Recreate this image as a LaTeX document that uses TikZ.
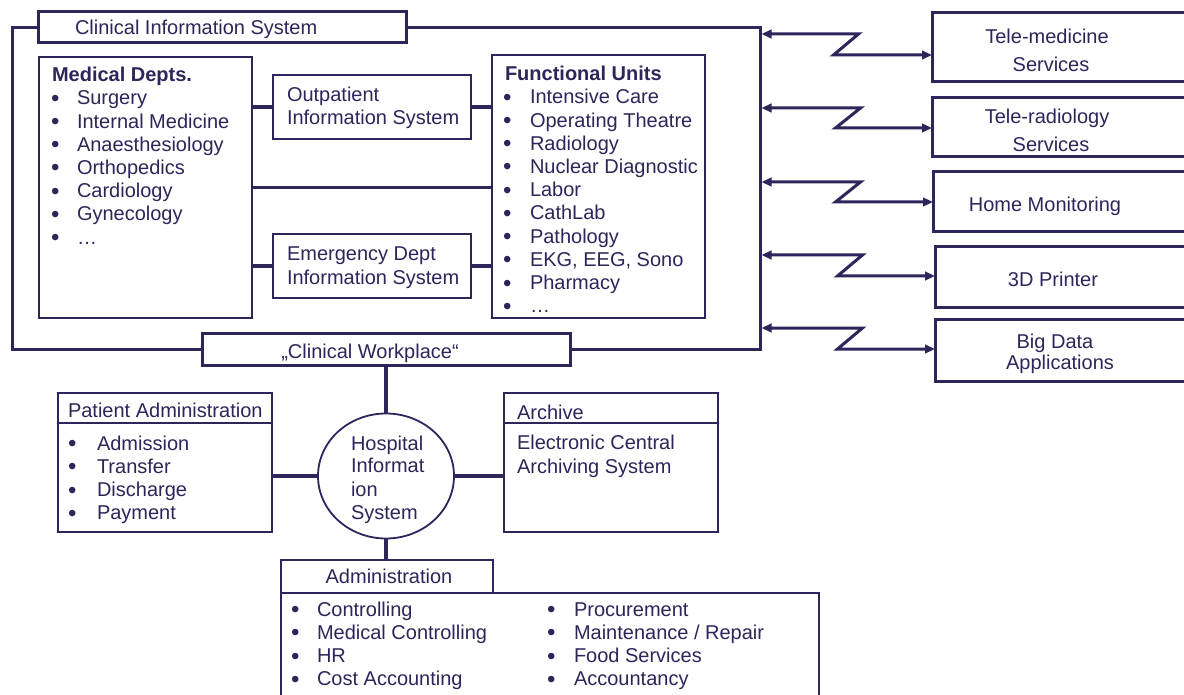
\documentclass[tikz,border=0pt]{standalone}
\usepackage{fontspec}
\setmainfont{Liberation Sans}
\usetikzlibrary{arrows.meta,shapes.geometric}
\definecolor{ink}{RGB}{44,38,90}
\begin{document}
\begin{tikzpicture}[x=1pt,y=-1pt,
  every node/.style={inner sep=0pt, outer sep=0pt},
  box/.style={rectangle, anchor=north west},
  heavy/.style={draw=ink, line width=3pt},
  light/.style={draw=ink, line width=1.6pt},
  wire/.style={draw=ink, line width=3.5pt},
  link/.style={draw=ink, line width=3pt, line join=miter,
    {Triangle[length=10pt,width=8.5pt]}-{Triangle[length=10pt,width=8.5pt]}},
  txt/.style={font=\fontsize{20}{23}\selectfont, text=ink, anchor=base west},
  ctxt/.style={txt, anchor=base},
  btxt/.style={txt, font=\fontsize{20}{23}\selectfont\bfseries},
  dot/.style={txt, font=\fontsize{24}{23}\selectfont, yshift=-1.4pt},
]
\useasboundingbox (0,0) rectangle (1184,695);
\clip (0,0) rectangle (1184,695);
\fill[white] (0,0) rectangle (1184,695);

% ---------- clinical information system ----------
\node[box, heavy, minimum width=368pt, minimum height=31pt] (cis) at (38,12) {};
\node[box, heavy, minimum width=368pt, minimum height=32pt] (cw) at (202,333) {};
\draw[heavy] (cis.west) -- ++(-26,0) |- (cw.west);
\draw[heavy] (cis.east) -- ++(354,0) |- (cw.east);
\node[txt] (cist) at (75,35) {Clinical Information System};
\node[ctxt] (cwt) at (370,358) {„Clinical Workplace“};

\node[box, light, minimum width=213pt, minimum height=261pt] (med) at (39,57) {};
\node[box, light, minimum width=198pt, minimum height=64pt] (outp) at (273,75) {};
\node[box, light, minimum width=198pt, minimum height=64pt] (emer) at (273,234) {};
\node[box, light, minimum width=213pt, minimum height=263pt] (fu) at (492,55) {};

\draw[wire] (outp.west) -- (outp.west -| med.east);
\draw[wire] (outp.east) -- (outp.east -| fu.west);
\draw[wire] (emer.west) -- (emer.west -| med.east);
\draw[wire] (emer.east) -- (emer.east -| fu.west);
\draw[wire] (med.east) -- (med.east -| fu.west);

\node[btxt] (medh) at (52,82) {Medical Depts.};
\foreach \t [count=\i from 0] in {Surgery, Internal Medicine, Anaesthesiology,
    Orthopedics, Cardiology, Gynecology, …} {
  \node[dot] (mdb\i) at (51,{105+23.2*\i}) {•};
  \node[txt] (md\i) at (77,{105+23.2*\i}) {\t};
}
\node[txt] (outp1) at (287,102) {Outpatient};
\node[txt] (outp2) at (287,125) {Information System};
\node[txt] (emer1) at (287,261) {Emergency Dept};
\node[txt] (emer2) at (287,284) {Information System};
\node[btxt] (fuh) at (505,81) {Functional Units};
\foreach \t [count=\i from 0] in {Intensive Care, Operating Theatre, Radiology,
    Nuclear Diagnostic, Labor, CathLab, Pathology, {EKG, EEG, Sono}, Pharmacy, …} {
  \node[dot] (fub\i) at (503,{104+23.2*\i}) {•};
  \node[txt] (fu\i) at (530,{104+23.2*\i}) {\t};
}

% ---------- external services ----------
\node[box, heavy, minimum width=300pt, minimum height=69pt] (r1) at (932,13) {};
\node[box, heavy, minimum width=300pt, minimum height=59pt] (r2) at (932,98) {};
\node[box, heavy, minimum width=300pt, minimum height=60pt] (r3) at (933,172) {};
\node[box, heavy, minimum width=300pt, minimum height=60pt] (r4) at (935,247) {};
\node[box, heavy, minimum width=300pt, minimum height=62pt] (r5) at (935,319) {};

\node[ctxt] (r1a) at (1047,44) {Tele-medicine};
\node[ctxt] (r1b) at (1051,72) {Services};
\node[ctxt] (r2a) at (1047,124) {Tele-radiology};
\node[ctxt] (r2b) at (1051,152) {Services};
\node[ctxt] (r3a) at (1045,212) {Home Monitoring};
\node[ctxt] (r4a) at (1053,287) {3D Printer};
\node[ctxt] (r5a) at (1055,348) {Big Data};
\node[ctxt] (r5b) at (1060,369) {Applications};

\foreach \k/\ya/\yb/\zx in {1/34/55/97, 2/108/128/99, 3/182/202/99, 4/255/276/101, 5/328/349/101} {
  \coordinate (p\k) at (761.5,\ya);
  \coordinate (q\k) at (0,\yb);
  \draw[link] (p\k) -- ++(\zx,0) -- ++(-25,{\yb-\ya}) -- (r\k.west |- q\k);
}

% ---------- hospital information system ----------
\node[ellipse, draw=ink, line width=1.8pt, minimum width=136pt, minimum height=125pt] (his) at (386,476) {};
\node[box, light, minimum width=214pt, minimum height=139pt] (pa) at (58,393) {};
\node[box, light, minimum width=214pt, minimum height=139pt] (ar) at (504,393) {};
\draw[light] ([yshift=-30pt]pa.north west) -- ([yshift=-30pt]pa.north east);
\draw[light] ([yshift=-30pt]ar.north west) -- ([yshift=-30pt]ar.north east);
\node[box, light, minimum width=212pt, minimum height=33pt] (admh) at (281,560) {};
\node[box, light, minimum width=538pt, minimum height=150pt] (adm) at (281,593) {};

\draw[wire] (cw.south) -- (his.north);
\draw[wire] (his.south) -- (his.south |- admh.north);
\draw[wire] (his.west) -- (his.west -| pa.east);
\draw[wire] (his.east) -- (his.east -| ar.west);

\node[txt] (his1) at (351,450) {Hospital};
\node[txt] (his2) at (351,472) {Informat};
\node[txt] (his3) at (351,496) {ion};
\node[txt] (his4) at (351,519) {System};

\node[txt] (pah) at (68,417) {Patient Administration};
\foreach \t [count=\i from 0] in {Admission, Transfer, Discharge, Payment} {
  \node[dot] (pab\i) at (68,{450+23.3*\i}) {•};
  \node[txt] (pa\i) at (97,{450+23.3*\i}) {\t};
}
\node[txt] (arh) at (517,419) {Archive};
\node[txt] (ar1) at (517,449) {Electronic Central};
\node[txt] (ar2) at (517,473) {Archiving System};

\node[ctxt] (admt) at (389,583) {Administration};
\foreach \t [count=\i from 0] in {Controlling, Medical Controlling, HR, Cost Accounting} {
  \node[dot] (alb\i) at (291,{616+23.3*\i}) {•};
  \node[txt] (al\i) at (317,{616+23.3*\i}) {\t};
}
\foreach \t [count=\i from 0] in {Procurement, Maintenance / Repair, Food Services, Accountancy} {
  \node[dot] (arb\i) at (547,{616+23.3*\i}) {•};
  \node[txt] (ari\i) at (574,{616+23.3*\i}) {\t};
}
\end{tikzpicture}
\end{document}
